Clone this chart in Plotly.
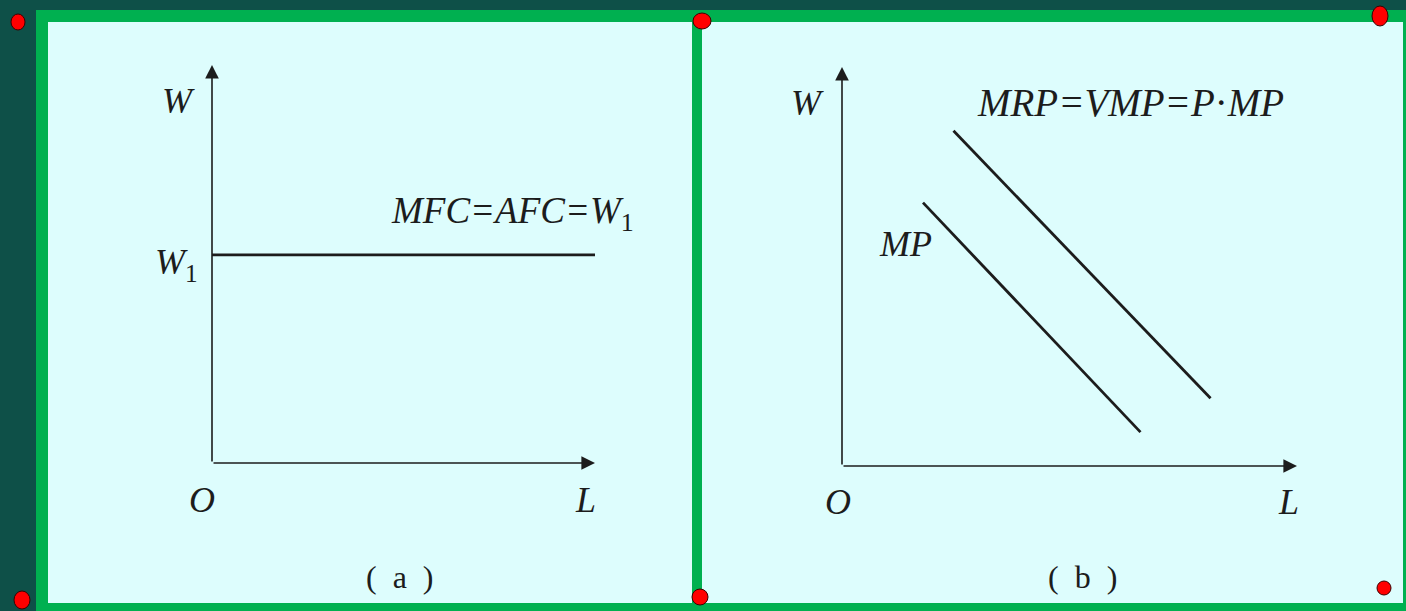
import plotly.graph_objects as go

W, H = 1406, 611

# panel (a): constant factor price line
a_x_max, a_y_max = 10, 10
mfc_x = [0, 10]
mfc_y = [5.23, 5.23]

# panel (b): two downward sloping curves
b_x_max, b_y_max = 10, 10
mrp_x = [2.45, 8.1]
mrp_y = [8.4, 1.7]
mp_x = [1.78, 6.56]
mp_y = [6.6, 0.85]

BG = "#0e5048"
GREEN = "#00b050"
PANEL = "#ddfdfd"
INK = "#1c1c1c"
SERIF = "Liberation Serif, Times New Roman, serif"


def px(x):
    return x / W


def py(y):
    return 1 - y / H


fig = go.Figure()

fig.add_trace(go.Scatter(x=mfc_x, y=mfc_y, mode="lines",
                         line=dict(color=INK, width=2.8), xaxis="x", yaxis="y"))
fig.add_trace(go.Scatter(x=mrp_x, y=mrp_y, mode="lines",
                         line=dict(color=INK, width=2.8), xaxis="x2", yaxis="y2"))
fig.add_trace(go.Scatter(x=mp_x, y=mp_y, mode="lines",
                         line=dict(color=INK, width=2.8), xaxis="x2", yaxis="y2"))

hidden = dict(visible=False, fixedrange=True)
fig.update_layout(
    width=W, height=H,
    margin=dict(l=0, r=0, t=0, b=0),
    paper_bgcolor=BG,
    plot_bgcolor="rgba(0,0,0,0)",
    showlegend=False,
    hovermode=False,
    xaxis=dict(domain=[px(212), px(595)], range=[0, a_x_max], **hidden),
    yaxis=dict(domain=[py(463), py(65)], range=[0, a_y_max], **hidden),
    xaxis2=dict(domain=[px(842), px(1297)], range=[0, b_x_max], anchor="y2", **hidden),
    yaxis2=dict(domain=[py(466), py(67)], range=[0, b_y_max], anchor="x2", **hidden),
)

# frame: green border, light panels, divider
shapes = [
    dict(type="rect", xref="paper", yref="paper", x0=px(36), x1=1, y0=0, y1=py(10),
         fillcolor=GREEN, line_width=0, layer="below"),
    dict(type="rect", xref="paper", yref="paper", x0=px(48), x1=px(1403), y0=py(603), y1=py(22),
         fillcolor=PANEL, line_width=0, layer="below"),
    dict(type="rect", xref="paper", yref="paper", x0=px(692), x1=px(702), y0=py(603), y1=py(22),
         fillcolor=GREEN, line_width=0, layer="below"),
]
for cx, cy, rx, ry in [(18, 22, 7, 8), (702, 21, 9, 8), (1380, 16, 8, 10),
                       (22, 600, 8, 9), (700, 597, 8, 8), (1384, 588, 7, 7)]:
    shapes.append(dict(type="circle", xref="paper", yref="paper",
                       x0=px(cx - rx), x1=px(cx + rx), y0=py(cy + ry), y1=py(cy - ry),
                       fillcolor="#ff0000", line=dict(color="#3a0000", width=1)))
fig.update_layout(shapes=shapes)


def arrow(xr, yr, x0, y0, x1, y1):
    fig.add_annotation(x=x1, y=y1, ax=x0, ay=y0, xref=xr, yref=yr, axref=xr, ayref=yr,
                       text="", showarrow=True, arrowhead=2, arrowsize=1.7,
                       arrowwidth=1.6, arrowcolor=INK, standoff=0, startstandoff=0)


def label(x, y, text, size=36, family=SERIF):
    # labels sit outside the plotting ranges, so place them on the paper
    fig.add_annotation(x=px(x), y=py(y), xref="paper", yref="paper", text=text,
                       showarrow=False, xanchor="center", yanchor="middle",
                       font=dict(family=family, size=size, color=INK))


# panel (a)
arrow("x", "y", 0, 0, 0, a_y_max)
arrow("x", "y", 0, 0, a_x_max, 0)
label(178, 101, "<i>W</i>")
label(176, 264, "<i>W</i><sub>1</sub>")
label(512, 213, "<i>MFC=AFC=W</i><sub>1</sub>", size=37)
label(202, 500, "<i>O</i>")
label(585, 500, "<i>L</i>")
label(400, 577, "(\u2002a\u2002)", size=32)

# panel (b)
arrow("x2", "y2", 0, 0, 0, b_y_max)
arrow("x2", "y2", 0, 0, b_x_max, 0)
label(807, 103, "<i>W</i>")
label(1130, 103, "<i>MRP=VMP=P</i>·<i>MP</i>", size=39)
label(905, 244, "<i>MP</i>")
label(838, 502, "<i>O</i>")
label(1288, 502, "<i>L</i>")
label(1082, 577, "(\u2002b\u2002)", size=32)

fig.write_html("out.html", config={"displayModeBar": False},
               post_script="document.body.style.margin='0';")
